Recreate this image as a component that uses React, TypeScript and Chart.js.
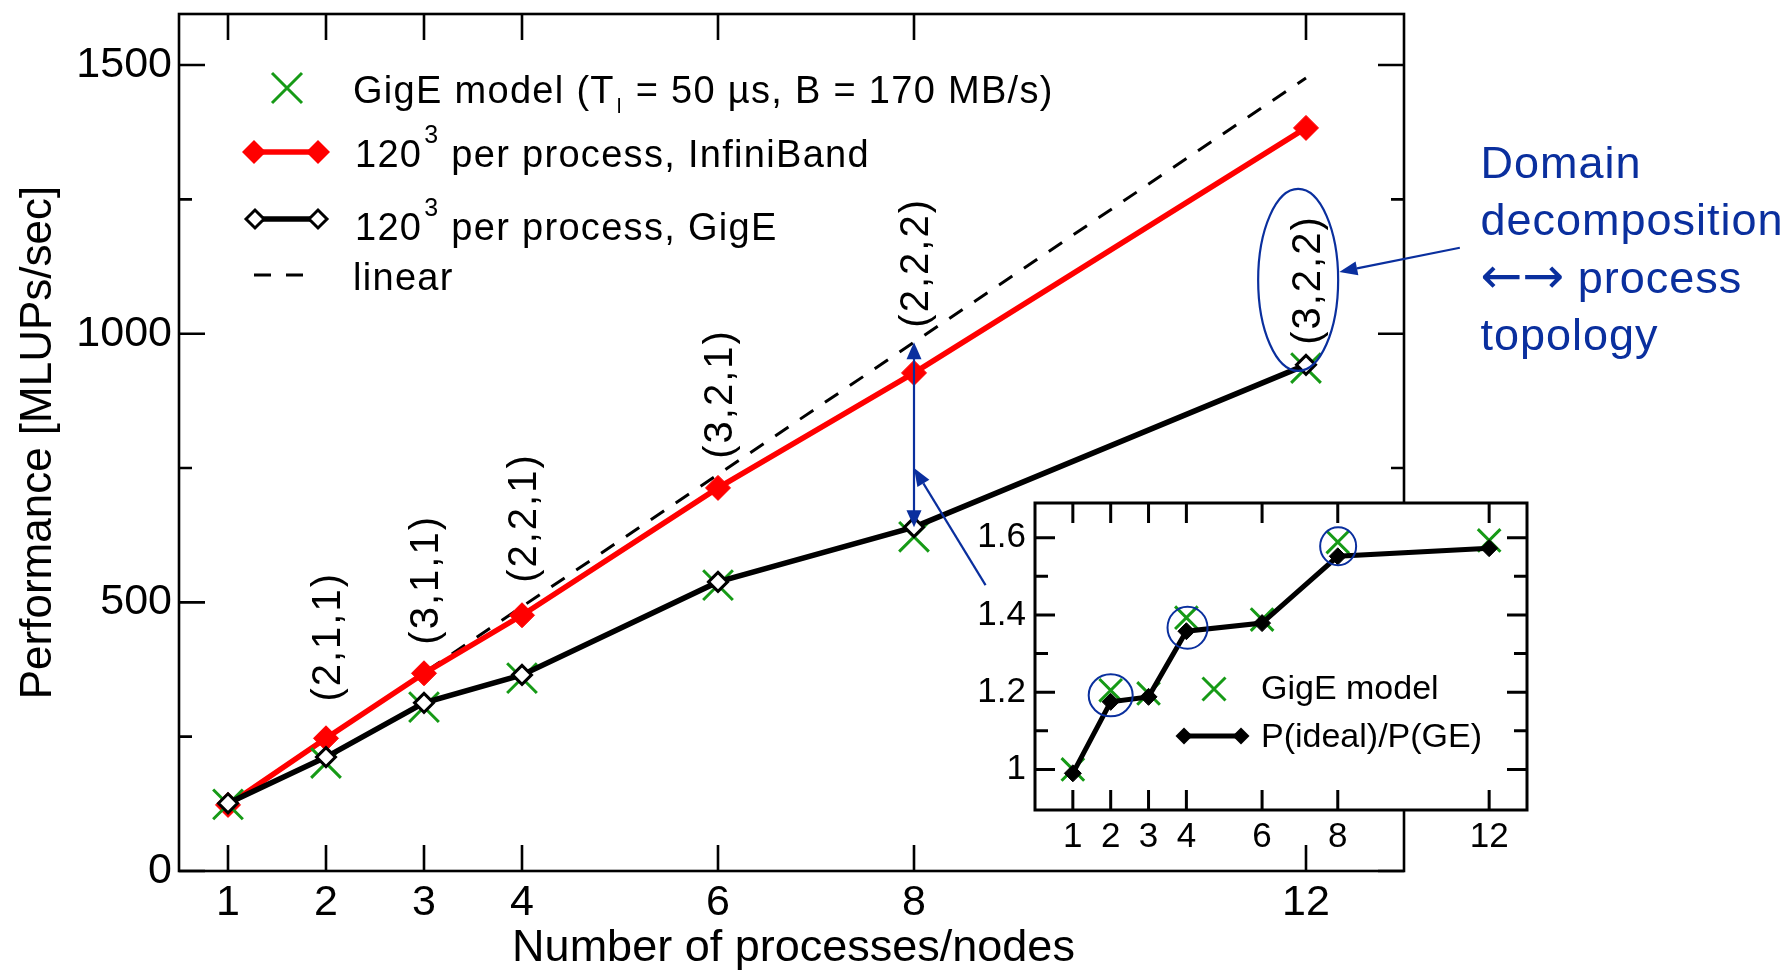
import React, { useEffect, useRef } from 'react';
import { Chart, registerables } from 'chart.js';

Chart.register(...registerables);

// ---------------- data ----------------
const nodes = [1, 2, 3, 4, 6, 8, 12];
const linearPerf = [123, 246, 369, 492, 738, 984, 1476];
const infinibandPerf = [123, 247, 368, 476, 713, 927, 1383];
const gigePerf = [126, 212, 313, 365, 538, 640, 942];
const gigeModelPerf = [124, 201, 305, 359, 532, 622, 936];

const mainXTicks = [1, 2, 3, 4, 6, 8, 12];
const mainYTicks = [0, 500, 1000, 1500];
const mainYMinor = [250, 750, 1250];

const topologyLabels = ['', '(2,1,1)', '(3,1,1)', '(2,2,1)', '(3,2,1)', '(2,2,2)', '(3,2,2)'];
const topologyLabelY = [0, 434, 540, 655, 886, 1130, 1098];

const ratioIdealGE = [0.99, 1.175, 1.188, 1.358, 1.379, 1.552, 1.573];
const ratioModel = [1.0, 1.205, 1.197, 1.393, 1.388, 1.589, 1.593];
const insetXTicks = [1, 2, 3, 4, 6, 8, 12];
const insetYTicks = [1, 1.2, 1.4, 1.6];
const insetYMinor = [1.1, 1.3, 1.5];

const legendMain = [
  'GigE model (T', 'l', ' = 50 µs, B = 170 MB/s)',
  '120', '3', ' per process, InfiniBand',
  '120', '3', ' per process, GigE',
  'linear',
];
const legendInset = ['GigE model', 'P(ideal)/P(GE)'];
const noteLines = ['Domain', 'decomposition', '\u2190\u2192', ' process', 'topology'];
const xTitle = 'Number of processes/nodes';
const yTitle = 'Performance [MLUPs/sec]';

// ---------------- styles ----------------
const FONT = '"Liberation Sans", Arial, Helvetica, sans-serif';
const ARROW_FONT = '"DejaVu Sans", sans-serif';
const GREEN = '#169a16';
const RED = '#ff0000';
const BLUE = '#0a2f9e';

function pts(xs: number[], ys: number[]) {
  return xs.map((v, i) => ({ x: v, y: ys[i] }));
}

function setLS(ctx: any, v: string) {
  try { ctx.letterSpacing = v; } catch (e) { /* ignore */ }
}

function arrowHead(ctx: CanvasRenderingContext2D, fx: number, fy: number, tx: number, ty: number, len: number, hw: number) {
  const a = Math.atan2(ty - fy, tx - fx);
  const bx = tx - len * Math.cos(a);
  const by = ty - len * Math.sin(a);
  ctx.beginPath();
  ctx.moveTo(tx, ty);
  ctx.lineTo(bx + hw * Math.sin(a), by - hw * Math.cos(a));
  ctx.lineTo(bx - hw * Math.sin(a), by + hw * Math.cos(a));
  ctx.closePath();
  ctx.fill();
  return [bx, by];
}

function diamond(ctx: CanvasRenderingContext2D, x: number, y: number, r: number, fill: string, stroke: string | null, lw: number) {
  ctx.beginPath();
  ctx.moveTo(x - r, y);
  ctx.lineTo(x, y - r);
  ctx.lineTo(x + r, y);
  ctx.lineTo(x, y + r);
  ctx.closePath();
  ctx.fillStyle = fill;
  ctx.fill();
  if (stroke) {
    ctx.strokeStyle = stroke;
    ctx.lineWidth = lw;
    ctx.stroke();
  }
}

function crossX(ctx: CanvasRenderingContext2D, x: number, y: number, h: number, color: string, lw: number) {
  ctx.beginPath();
  ctx.moveTo(x - h, y - h);
  ctx.lineTo(x + h, y + h);
  ctx.moveTo(x - h, y + h);
  ctx.lineTo(x + h, y - h);
  ctx.strokeStyle = color;
  ctx.lineWidth = lw;
  ctx.stroke();
}

type Seg = { t: string; size: number; dy: number; gap: number; family?: string };
function drawSegs(ctx: CanvasRenderingContext2D, segs: Seg[], x: number, y: number) {
  let cx = x;
  for (const s of segs) {
    ctx.font = `${s.size}px ${s.family || FONT}`;
    cx += s.gap;
    ctx.fillText(s.t, cx, y + s.dy);
    cx += ctx.measureText(s.t).width;
  }
}

function drawFrame(chart: any, lw: number, major: number, minor: number, xT: number[], yT: number[], yM: number[]) {
  const { ctx, chartArea, scales } = chart;
  const { left, right, top, bottom } = chartArea;
  const x = scales.x;
  const y = scales.y;
  ctx.save();
  ctx.strokeStyle = '#000';
  ctx.lineWidth = lw;
  ctx.strokeRect(left, top, right - left, bottom - top);
  ctx.beginPath();
  for (const v of xT) {
    const p = x.getPixelForValue(v);
    ctx.moveTo(p, bottom); ctx.lineTo(p, bottom - major);
    ctx.moveTo(p, top); ctx.lineTo(p, top + major);
  }
  for (const v of yT) {
    const p = y.getPixelForValue(v);
    ctx.moveTo(left, p); ctx.lineTo(left + major, p);
    ctx.moveTo(right, p); ctx.lineTo(right - major, p);
  }
  for (const v of yM) {
    const p = y.getPixelForValue(v);
    ctx.moveTo(left, p); ctx.lineTo(left + minor, p);
    ctx.moveTo(right, p); ctx.lineTo(right - minor, p);
  }
  ctx.stroke();
  ctx.restore();
}

const mainDecor = {
  id: 'mainDecor',
  afterDraw(chart: any) {
    const { ctx, chartArea, scales } = chart;
    const X = (v: number) => scales.x.getPixelForValue(v);
    const Y = (v: number) => scales.y.getPixelForValue(v);

    drawFrame(chart, 2.6, 26, 13, mainXTicks, mainYTicks, mainYMinor);

    ctx.save();
    // topology labels (rotated)
    ctx.fillStyle = '#000';
    ctx.font = `40px ${FONT}`;
    setLS(ctx, '2px');
    ctx.textAlign = 'center';
    ctx.textBaseline = 'middle';
    for (let i = 1; i < nodes.length; i++) {
      ctx.save();
      ctx.translate(X(nodes[i]) + 3, Y(topologyLabelY[i]));
      ctx.rotate(-Math.PI / 2);
      ctx.fillText(topologyLabels[i], 1, 0);
      ctx.restore();
    }
    setLS(ctx, '0px');

    // blue annotations
    ctx.strokeStyle = BLUE;
    ctx.fillStyle = BLUE;
    ctx.lineWidth = 2.2;
    // double arrow at x = 8
    const ax = X(nodes[5]);
    const yTop = Y(linearPerf[5]);
    const yBot = Y(gigePerf[5]);
    ctx.beginPath();
    ctx.moveTo(ax, yTop + 16);
    ctx.lineTo(ax, yBot - 16);
    ctx.stroke();
    arrowHead(ctx, ax, yBot, ax, yTop, 17, 7.5);
    arrowHead(ctx, ax, yTop, ax, yBot, 17, 7.5);
    // pointer from the inset
    const px0 = X(8.73), py0 = Y(532);
    const px1 = X(8), py1 = Y(750);
    const [bx, by] = arrowHead(ctx, px0, py0, px1, py1, 18, 7);
    ctx.beginPath();
    ctx.moveTo(px0, py0);
    ctx.lineTo(bx, by);
    ctx.stroke();
    // ellipse around (3,2,2)
    ctx.beginPath();
    ctx.ellipse(X(11.92), Y(1100), 40, 91, 0, 0, Math.PI * 2);
    ctx.stroke();
    // arrow from note text to ellipse
    const tx0 = X(13.57), ty0 = Y(1160);
    const tx1 = X(12.34), ty1 = Y(1115);
    const [cbx, cby] = arrowHead(ctx, tx0, ty0, tx1, ty1, 18, 7);
    ctx.beginPath();
    ctx.moveTo(tx0, ty0);
    ctx.lineTo(cbx, cby);
    ctx.stroke();
    // note text
    ctx.textAlign = 'left';
    ctx.textBaseline = 'alphabetic';
    setLS(ctx, '1px');
    const nx = X(13.78);
    drawSegs(ctx, [{ t: noteLines[0], size: 45, dy: 0, gap: 0 }], nx, Y(1290));
    drawSegs(ctx, [{ t: noteLines[1], size: 45, dy: 0, gap: 0 }], nx, Y(1184));
    setLS(ctx, '0px');
    drawSegs(ctx, [
      { t: noteLines[2], size: 50, dy: 0, gap: 0, family: ARROW_FONT },
    ], nx, Y(1076));
    ctx.font = `50px ${ARROW_FONT}`;
    const aw = ctx.measureText(noteLines[2]).width;
    setLS(ctx, '1px');
    drawSegs(ctx, [{ t: noteLines[3], size: 45, dy: 0, gap: 0 }], nx + aw, Y(1076));
    drawSegs(ctx, [{ t: noteLines[4], size: 45, dy: 0, gap: 0 }], nx, Y(970));
    setLS(ctx, '0px');

    // legend
    ctx.fillStyle = '#000';
    setLS(ctx, '1.3px');
    crossX(ctx, 287, 88, 15, GREEN, 3);
    drawSegs(ctx, [
      { t: legendMain[0], size: 38, dy: 0, gap: 0 },
      { t: legendMain[1], size: 21, dy: 10, gap: 2 },
      { t: legendMain[2], size: 38, dy: 0, gap: 1 },
    ], 353, 103);

    ctx.strokeStyle = RED;
    ctx.lineWidth = 5.5;
    ctx.beginPath(); ctx.moveTo(254, 152); ctx.lineTo(318, 152); ctx.stroke();
    diamond(ctx, 254, 152, 12, RED, null, 0);
    diamond(ctx, 318, 152, 12, RED, null, 0);
    ctx.fillStyle = '#000';
    drawSegs(ctx, [
      { t: legendMain[3], size: 38, dy: 0, gap: 0 },
      { t: legendMain[4], size: 25, dy: -24, gap: 2 },
      { t: legendMain[5], size: 38, dy: 0, gap: 0 },
    ], 355, 167);

    ctx.strokeStyle = '#000';
    ctx.lineWidth = 5.5;
    ctx.beginPath(); ctx.moveTo(255, 219); ctx.lineTo(318, 219); ctx.stroke();
    diamond(ctx, 255, 219, 9, '#fff', '#000', 3);
    diamond(ctx, 318, 219, 9, '#fff', '#000', 3);
    ctx.fillStyle = '#000';
    drawSegs(ctx, [
      { t: legendMain[6], size: 38, dy: 0, gap: 0 },
      { t: legendMain[7], size: 25, dy: -24, gap: 2 },
      { t: legendMain[8], size: 38, dy: 0, gap: 0 },
    ], 355, 240);

    ctx.strokeStyle = '#000';
    ctx.lineWidth = 3;
    ctx.setLineDash([17, 15]);
    ctx.beginPath(); ctx.moveTo(254, 275); ctx.lineTo(308, 275); ctx.stroke();
    ctx.setLineDash([]);
    drawSegs(ctx, [{ t: legendMain[9], size: 38, dy: 0, gap: 0 }], 353, 290);
    setLS(ctx, '0px');

    // axis titles
    ctx.fillStyle = '#000';
    ctx.textAlign = 'center';
    ctx.textBaseline = 'alphabetic';
    ctx.font = `45px ${FONT}`;
    ctx.fillText(xTitle, (chartArea.left + chartArea.right) / 2 + 2, 961);
    ctx.font = `44px ${FONT}`;
    ctx.save();
    ctx.translate(51, (chartArea.top + chartArea.bottom) / 2);
    ctx.rotate(-Math.PI / 2);
    ctx.fillText(yTitle, 0, 0);
    ctx.restore();

    ctx.restore();
  },
};

const insetCircles = [
  { x: 2, y: 1.192, rx: 22, ry: 21 },
  { x: 4.03, y: 1.367, rx: 20, ry: 21 },
  { x: 8.01, y: 1.578, rx: 18, ry: 19 },
];

const insetDecor = {
  id: 'insetDecor',
  beforeDraw(chart: any) {
    const { ctx, chartArea } = chart;
    ctx.save();
    ctx.fillStyle = '#fff';
    ctx.fillRect(chartArea.left, chartArea.top, chartArea.right - chartArea.left, chartArea.bottom - chartArea.top);
    ctx.restore();
  },
  afterDraw(chart: any) {
    const { ctx, scales } = chart;
    const X = (v: number) => scales.x.getPixelForValue(v);
    const Y = (v: number) => scales.y.getPixelForValue(v);
    drawFrame(chart, 3, 20, 13, insetXTicks, insetYTicks, insetYMinor);
    ctx.save();
    ctx.strokeStyle = BLUE;
    ctx.lineWidth = 2;
    for (const c of insetCircles) {
      ctx.beginPath();
      ctx.ellipse(X(c.x), Y(c.y), c.rx, c.ry, 0, 0, Math.PI * 2);
      ctx.stroke();
    }
    // legend
    crossX(ctx, 254, 209, 11.5, GREEN, 3);
    ctx.strokeStyle = '#000';
    ctx.lineWidth = 5;
    ctx.beginPath(); ctx.moveTo(224, 256); ctx.lineTo(281, 256); ctx.stroke();
    diamond(ctx, 224, 256, 8.5, '#000', null, 0);
    diamond(ctx, 281, 256, 8.5, '#000', null, 0);
    ctx.fillStyle = '#000';
    ctx.font = `34px ${FONT}`;
    ctx.textAlign = 'left';
    ctx.textBaseline = 'alphabetic';
    ctx.fillText(legendInset[0], 301, 219);
    ctx.fillText(legendInset[1], 301, 267);
    ctx.restore();
  },
};

export default function App() {
  const mainRef = useRef<HTMLCanvasElement>(null);
  const insetRef = useRef<HTMLCanvasElement>(null);

  useEffect(() => {
    document.body.style.margin = '0';
    const tickFont = { family: FONT, size: 43 };
    const main = new Chart(mainRef.current as HTMLCanvasElement, {
      type: 'line',
      data: {
        datasets: [
          {
            label: 'gige',
            data: pts(nodes, gigePerf),
            borderColor: '#000',
            borderWidth: 5.5,
            pointStyle: 'rectRot',
            pointRadius: 9.5,
            pointBackgroundColor: '#fff',
            pointBorderColor: '#000',
            pointBorderWidth: 3,
            order: 0,
          },
          {
            label: 'model',
            data: pts(nodes, gigeModelPerf),
            showLine: false,
            pointStyle: 'crossRot',
            pointRadius: 21,
            pointBorderColor: GREEN,
            pointBorderWidth: 3,
            borderColor: GREEN,
            order: 1,
          },
          {
            label: 'ib',
            data: pts(nodes, infinibandPerf),
            borderColor: RED,
            borderWidth: 5.5,
            pointStyle: 'rectRot',
            pointRadius: 12.5,
            pointBackgroundColor: RED,
            pointBorderColor: RED,
            pointBorderWidth: 1,
            order: 2,
          },
          {
            label: 'linear',
            data: pts(nodes, linearPerf),
            borderColor: '#000',
            borderWidth: 3,
            borderDash: [16, 14],
            pointRadius: 0,
            order: 3,
          },
        ],
      },
      options: {
        responsive: false,
        animation: false,
        events: [],
        layout: { autoPadding: false, padding: { left: 0, top: 14, right: 386, bottom: 0 } },
        plugins: { legend: { display: false }, tooltip: { enabled: false }, title: { display: false } },
        scales: {
          x: {
            type: 'linear',
            min: 0.5,
            max: 13,
            grid: { display: false, drawTicks: false },
            border: { display: false },
            ticks: { font: tickFont, color: '#000', padding: 6, maxRotation: 0, autoSkip: false, callback: (v: any) => String(v) },
            afterBuildTicks: (s: any) => { s.ticks = mainXTicks.map((v) => ({ value: v })); },
            afterFit: (s: any) => { s.height = 100; s.paddingLeft = 0; s.paddingRight = 0; },
          },
          y: {
            type: 'linear',
            min: 0,
            max: 1595,
            grid: { display: false, drawTicks: false },
            border: { display: false },
            ticks: { font: tickFont, color: '#000', padding: 7, autoSkip: false, callback: (v: any) => String(v) },
            afterBuildTicks: (s: any) => { s.ticks = mainYTicks.map((v) => ({ value: v })); },
            afterFit: (s: any) => { s.width = 179; s.paddingTop = 0; s.paddingBottom = 0; },
          },
        },
      },
      plugins: [mainDecor],
    } as any);

    const insetFont = { family: FONT, size: 35 };
    const inset = new Chart(insetRef.current as HTMLCanvasElement, {
      type: 'line',
      data: {
        datasets: [
          {
            label: 'ratio',
            data: pts(nodes, ratioIdealGE),
            borderColor: '#000',
            borderWidth: 5,
            pointStyle: 'rectRot',
            pointRadius: 8.5,
            pointBackgroundColor: '#000',
            pointBorderColor: '#000',
            pointBorderWidth: 1,
            order: 0,
          },
          {
            label: 'model',
            data: pts(nodes, ratioModel),
            showLine: false,
            pointStyle: 'crossRot',
            pointRadius: 16,
            pointBorderColor: GREEN,
            pointBorderWidth: 3,
            borderColor: GREEN,
            order: 1,
          },
        ],
      },
      options: {
        responsive: false,
        animation: false,
        events: [],
        layout: { autoPadding: false, padding: { left: 0, top: 23, right: 13, bottom: 0 } },
        plugins: { legend: { display: false }, tooltip: { enabled: false }, title: { display: false } },
        scales: {
          x: {
            type: 'linear',
            min: 0,
            max: 13,
            grid: { display: false, drawTicks: false },
            border: { display: false },
            ticks: { font: insetFont, color: '#000', padding: 6, maxRotation: 0, autoSkip: false, callback: (v: any) => String(v) },
            afterBuildTicks: (s: any) => { s.ticks = insetXTicks.map((v) => ({ value: v })); },
            afterFit: (s: any) => { s.height = 60; s.paddingLeft = 0; s.paddingRight = 0; },
          },
          y: {
            type: 'linear',
            min: 0.895,
            max: 1.69,
            grid: { display: false, drawTicks: false },
            border: { display: false },
            ticks: { font: insetFont, color: '#000', padding: 9, autoSkip: false, callback: (v: any) => String(v) },
            afterBuildTicks: (s: any) => { s.ticks = insetYTicks.map((v) => ({ value: v })); },
            afterFit: (s: any) => { s.width = 75; s.paddingTop = 0; s.paddingBottom = 0; },
          },
        },
      },
      plugins: [insetDecor],
    } as any);

    return () => {
      main.destroy();
      inset.destroy();
    };
  }, []);

  return (
    <div style={{ position: 'relative', width: 1790, height: 971, background: '#fff', overflow: 'hidden' }}>
      <canvas ref={mainRef} width={1790} height={971} style={{ position: 'absolute', left: 0, top: 0, width: 1790, height: 971 }} />
      <canvas ref={insetRef} width={580} height={390} style={{ position: 'absolute', left: 960, top: 480, width: 580, height: 390 }} />
    </div>
  );
}
